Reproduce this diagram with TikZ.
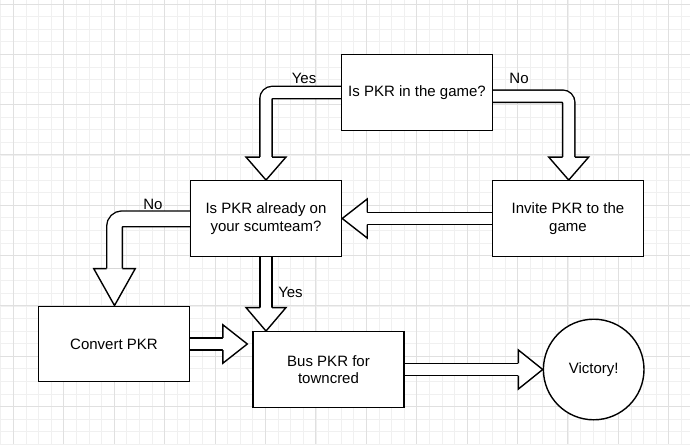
\documentclass[tikz,border=0pt]{standalone}
\usepackage{fontspec}
\setmainfont{Liberation Sans}
\usetikzlibrary{calc}
\pgfdeclarelayer{gridlayer}
\pgfdeclarelayer{arrowlayer}
\pgfsetlayers{gridlayer,arrowlayer,main}
\newcommand\diafont{\fontsize{15}{17.5}\selectfont}
\tikzset{
  box/.style={draw, line width=1.4pt, fill=white, minimum width=151pt, minimum height=75.5pt, align=center, font=\diafont, inner sep=2pt},
  endcircle/.style={draw, circle, line width=1.4pt, fill=white, minimum size=100.6pt, inner sep=0pt, font=\diafont},
  lbl/.style={font=\diafont, inner sep=1pt},
  shaft/.style={line width=1.4pt, double=white, double distance=10.8pt, rounded corners=6.2pt},
  wideshaft/.style={line width=1.4pt, double=white, double distance=14.2pt, rounded corners=7.8pt},
  head/.style={draw, line width=1.4pt, fill=white, line join=miter},
  minorgrid/.style={draw=black!6, line width=0.6pt},
  majorgrid/.style={draw=black!12, line width=0.9pt},
}
\begin{document}
\begin{tikzpicture}[x=1pt, y=-1pt]
\useasboundingbox (0,0) rectangle (690,444);
\begin{pgfonlayer}{gridlayer}
  \fill[white] (0,0) rectangle (690,444);
  \foreach \i in {-1,...,54} {
    \pgfmathsetmacro\xx{13.3+12.605*\i}
    \draw[minorgrid] (\xx,0) -- (\xx,444);
  }
  \foreach \j in {0,...,35} {
    \pgfmathsetmacro\yy{4+12.575*\j}
    \draw[minorgrid] (0,\yy) -- (690,\yy);
  }
  \foreach \i in {0,...,13} {
    \pgfmathsetmacro\xx{13.3+50.42*\i}
    \draw[majorgrid] (\xx,0) -- (\xx,444);
  }
  \foreach \j in {0,...,8} {
    \pgfmathsetmacro\yy{4+50.3*\j}
    \draw[majorgrid] (0,\yy) -- (690,\yy);
  }
\end{pgfonlayer}

\node[box] (b1) at (417,92.5) {Is PKR in the game?};
\node[box] (b2) at (266,218.5) {Is PKR already on\\your scumteam?};
\node[box] (b3) at (568,218.5) {Invite PKR to the\\game};
\node[box] (b4) at (114,344) {Convert PKR};
\node[box] (b5) at (328.5,369.5) {Bus PKR for\\towncred};
\node[endcircle] (vic) at (593.7,369.5) {Victory!};

\node[lbl] (l1) at (304,78) {Yes};
\node[lbl] (l2) at (519,78) {No};
\node[lbl] (l3) at (153,204) {No};
\node[lbl] (l4) at (290.5,292.5) {Yes};

\begin{pgfonlayer}{arrowlayer}
  % b1 -> b2 (Yes)
  \coordinate (h1) at ($(b2.north)+(0,-23)$);
  \draw[shaft] (b1.west) -| (h1);
  \draw[head] ($(h1)+(6.2,0)$) -- ($(h1)+(20,0)$) -- (b2.north) -- ($(h1)+(-20,0)$) -- ($(h1)+(-6.2,0)$);
  % b1 -> b3 (No)
  \coordinate (h2) at ($(b3.north)+(0.7,-23)$);
  \coordinate (t2) at ($(b3.north)+(0.7,0)$);
  \draw[shaft] ($(b1.east)+(0,3.7)$) -| (h2);
  \draw[head] ($(h2)+(6.2,0)$) -- ($(h2)+(20,0)$) -- (t2) -- ($(h2)+(-20,0)$) -- ($(h2)+(-6.2,0)$);
  % b3 -> b2
  \coordinate (h3) at ($(b2.east)+(25,0)$);
  \draw[shaft] (b3.west) -- (h3);
  \draw[head] ($(h3)+(0,-6.2)$) -- ($(h3)+(0,-19.5)$) -- (b2.east) -- ($(h3)+(0,19.5)$) -- ($(h3)+(0,6.2)$);
  % b2 -> b4 (No)
  \coordinate (h4) at ($(b4.north)+(0.5,-37)$);
  \coordinate (t4) at ($(b4.north)+(0.5,0)$);
  \draw[wideshaft] ($(b2.west)+(0,0.3)$) -| (h4);
  \draw[head] ($(h4)+(7.8,0)$) -- ($(h4)+(20.8,0)$) -- (t4) -- ($(h4)+(-20.8,0)$) -- ($(h4)+(-7.8,0)$);
  % b2 -> b5 (Yes)
  \coordinate (t5) at (b2.south |- b5.north);
  \coordinate (h5) at ($(t5)+(0,-23.5)$);
  \draw[shaft] (b2.south) -- (h5);
  \draw[head] ($(h5)+(6.2,0)$) -- ($(h5)+(20,0)$) -- (t5) -- ($(h5)+(-20,0)$) -- ($(h5)+(-6.2,0)$);
  % b4 -> b5
  \coordinate (t6) at ($(b5.west |- b4.east)+(-5,0)$);
  \coordinate (h6) at ($(t6)+(-24.4,0)$);
  \draw[shaft] (b4.east) -- (h6);
  \draw[head] ($(h6)+(0,-6.2)$) -- ($(h6)+(0,-19.2)$) -- (t6) -- ($(h6)+(0,19.2)$) -- ($(h6)+(0,6.2)$);
  % b5 -> victory
  \coordinate (h7) at ($(vic.west)+(-24.4,0)$);
  \draw[shaft] (b5.east) -- (h7);
  \draw[head] ($(h7)+(0,-6.2)$) -- ($(h7)+(0,-19.6)$) -- (vic.west) -- ($(h7)+(0,19.6)$) -- ($(h7)+(0,6.2)$);
\end{pgfonlayer}
\end{tikzpicture}
\end{document}
